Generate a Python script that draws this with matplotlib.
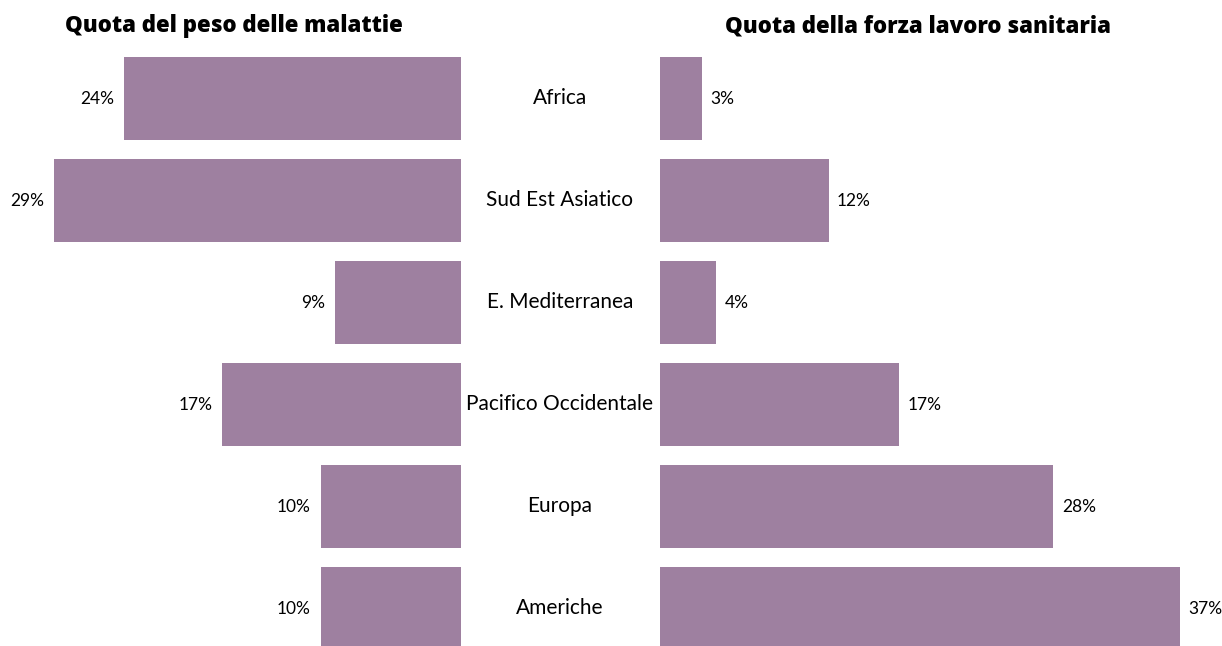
import matplotlib
matplotlib.use("Agg")
import matplotlib.pyplot as plt

categories = ["Africa", "Sud Est Asiatico", "E. Mediterranea",
              "Pacifico Occidentale", "Europa", "Americhe"]
disease_burden = [24, 29, 9, 17, 10, 10]
health_workforce = [3, 12, 4, 17, 28, 37]
title_left = "Quota del peso delle malattie"
title_right = "Quota della forza lavoro sanitaria"

BAR = "#9e80a0"
W, H = 1222, 646
PX = 14.05  # pixels per percentage point

fig = plt.figure(figsize=(W / 100, H / 100), dpi=100)
fig.patch.set_facecolor("white")

y_top, y_bot = 47.5, 659.5
bottom = (H - y_bot) / H
height = (y_bot - y_top) / H

# left axes: pixel 10 -> 461
l0, l1 = 10, 461
axL = fig.add_axes([l0 / W, bottom, (l1 - l0) / W, height])
axL.barh(range(len(categories)), disease_burden, height=0.82, color=BAR)
axL.set_xlim((l1 - l0) / PX, 0)
axL.set_ylim(len(categories) - 0.5, -0.5)
for i, v in enumerate(disease_burden):
    axL.annotate(f"{v}%", (v, i), xytext=(-7, 0), textcoords="offset points",
                 ha="right", va="center", fontsize=12.5, family="Lato")

# right axes: pixel 660 -> 1215
r0, r1 = 660, 1215
axR = fig.add_axes([r0 / W, bottom, (r1 - r0) / W, height])
axR.barh(range(len(categories)), health_workforce, height=0.82, color=BAR)
axR.set_xlim(0, (r1 - r0) / PX)
axR.set_ylim(len(categories) - 0.5, -0.5)
for i, v in enumerate(health_workforce):
    axR.annotate(f"{v}%", (v, i), xytext=(6, 0), textcoords="offset points",
                 ha="left", va="center", fontsize=12.5, family="Lato")

for ax in (axL, axR):
    ax.axis("off")

# category labels in the middle
for i, c in enumerate(categories):
    axL.annotate(c, (0, i), xytext=(560 - l1, 0), textcoords="offset pixels",
                 ha="center", va="center", fontsize=15, family="Lato",
                 annotation_clip=False)

fig.text(234 / W, 1 - 26 / H, title_left, ha="center", va="center",
         fontsize=16, family="Open Sans", weight=800)
fig.text(918 / W, 1 - 26 / H, title_right, ha="center", va="center",
         fontsize=16, family="Open Sans", weight=800)

fig.savefig("out.png", dpi=100, facecolor="white")
